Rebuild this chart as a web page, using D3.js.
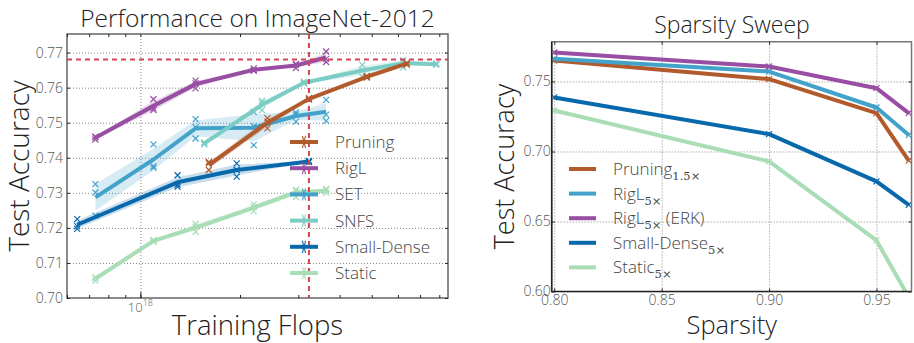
<!DOCTYPE html>
<html>
<head>
<meta charset="utf-8">
<script src="https://cdn.jsdelivr.net/npm/d3@7"></script>
<style>
  body { margin: 0; background: #fff; }
  svg { display: block; font-family: 'Open Sans', sans-serif; font-weight: 300; }
</style>
</head>
<body>
<svg id="fig" width="914" height="343"></svg>
<script>
// ---- ImageNet-2012: training flops (units of 1e18) and test accuracy of three seeds ----
const pruningFlops = [1.61, 2.42, 3.23, 4.83, 6.38];
const pruningRuns = [[0.7384, 0.7365, 0.7388], [0.7513, 0.7484, 0.7503], [0.7570, 0.7566, 0.7568], [0.7631, 0.7629, 0.7633], [0.7670, 0.7665, 0.7670]];
const rigLFlops = [0.731, 1.095, 1.468, 2.20, 2.95, 3.64];
const rigLRuns = [[0.7460, 0.7452, 0.7459], [0.7567, 0.7536, 0.7541], [0.7612, 0.7598, 0.7620], [0.7650, 0.7648, 0.7655], [0.7656, 0.7668, 0.7665], [0.7703, 0.7673, 0.7682]];
const setFlops = [0.731, 1.095, 1.468, 2.20, 2.95, 3.64];
const setRuns = [[0.7325, 0.7301, 0.7235], [0.7438, 0.7376, 0.7371], [0.7510, 0.7455, 0.7487], [0.7531, 0.7490, 0.7436], [0.7524, 0.7503, 0.7530], [0.7565, 0.7505, 0.7523]];
const snfsFlops = [1.56, 2.33, 3.12, 4.68, 6.22, 7.83];
const snfsRuns = [[0.7441, 0.7438, 0.7444], [0.7555, 0.7536, 0.7562], [0.7617, 0.7612, 0.7613], [0.7665, 0.7631, 0.7650], [0.7674, 0.7658, 0.7678], [0.7667, 0.7665, 0.7669]];
const smallDenseFlops = [0.644, 1.295, 1.954, 3.23];
const smallDenseRuns = [[0.7225, 0.7205, 0.7197], [0.7350, 0.7317, 0.7323], [0.7384, 0.7346, 0.7365], [0.7391, 0.7389, 0.7388]];
const staticFlops = [0.731, 1.095, 1.468, 2.20, 2.95, 3.64];
const staticRuns = [[0.7059, 0.7049, 0.7057], [0.7163, 0.7160, 0.7166], [0.7211, 0.7189, 0.7203], [0.7267, 0.7248, 0.7259], [0.7306, 0.7288, 0.7309], [0.7311, 0.7300, 0.7307]];
// dense baseline: its training cost and accuracy (red reference lines)
const denseFlops = 3.23;
const denseAccuracy = 0.768;

const flopsTicks = [0.6, 0.7, 0.8, 0.9, 1, 2, 3, 4, 5, 6, 7, 8];
const accuracyTicks = [0.70, 0.71, 0.72, 0.73, 0.74, 0.75, 0.76, 0.77];

// ---- Sparsity sweep ----
const sparsityLevels = [0.8, 0.9, 0.95, 0.965];
const pruningSweep = [0.7650, 0.7517, 0.7274, 0.6935];
const rigLSweep = [0.7662, 0.7571, 0.7314, 0.7117];
const rigLErkSweep = [0.7707, 0.7607, 0.7452, 0.7274];
const smallDenseSweep = [0.7386, 0.7124, 0.6786, 0.6619];
const staticSweep = [0.7293, 0.6929, 0.6365, 0.5960];
const sparsityTicks = [0.80, 0.85, 0.90, 0.95];
const sweepAccuracyTicks = [0.60, 0.65, 0.70, 0.75];

const C = {
  pruning: '#b15a2c',
  rigl: '#984ea3',
  set: '#43a2ca',
  snfs: '#7bccc4',
  smallDense: '#0868ac',
  static: '#a8ddb5',
  ref: '#d6434f'
};

const svg = d3.select('#fig');
const defs = svg.append('defs');
const crossPath = 'M-3,-3L3,3M-3,3L3,-3';
const legendCross = 'M-1.6,-6L1.6,6M-1.6,6L1.6,-6';

function popStd(a) {
  const m = d3.mean(a);
  return Math.sqrt(d3.mean(a, v => (v - m) * (v - m)));
}

function styleGrid(g) {
  g.select('.domain').remove();
  g.selectAll('.tick text').remove();
  g.selectAll('.tick line').attr('stroke', '#777').attr('stroke-width', 0.9).attr('stroke-dasharray', '1,2');
}
function styleTicks(g, labelColor) {
  g.select('.domain').remove();
  g.selectAll('.tick line').attr('stroke', '#222').attr('stroke-width', 1);
  g.selectAll('.tick text').attr('fill', labelColor).attr('font-size', 14)
    .attr('font-family', "'Open Sans', sans-serif").attr('font-weight', 300);
}

// =========================== Left panel ===========================
const L = { x0: 67, x1: 448, y0: 34, y1: 298 };
const xL = d3.scaleLog().domain([0.6, 8.5]).range([L.x0, L.x1]);
const yL = d3.scaleLinear().domain([0.70, 0.7753]).range([L.y1, L.y0]);
const gL = svg.append('g');

defs.append('clipPath').attr('id', 'clipL').append('rect')
  .attr('x', L.x0).attr('y', L.y0).attr('width', L.x1 - L.x0).attr('height', L.y1 - L.y0);

// grid
gL.append('g').attr('transform', `translate(0,${L.y1})`)
  .call(d3.axisBottom(xL).tickValues([1]).tickSize(-(L.y1 - L.y0))).call(styleGrid);
gL.append('g').attr('transform', `translate(${L.x0},0)`)
  .call(d3.axisLeft(yL).tickValues(accuracyTicks.slice(1)).tickSize(-(L.x1 - L.x0))).call(styleGrid);

const leftSeries = [
  { key: 'set', name: 'SET', color: C.set, xs: setFlops, runs: setRuns },
  { key: 'smallDense', name: 'Small-Dense', color: C.smallDense, xs: smallDenseFlops, runs: smallDenseRuns },
  { key: 'static', name: 'Static', color: C.static, xs: staticFlops, runs: staticRuns },
  { key: 'snfs', name: 'SNFS', color: C.snfs, xs: snfsFlops, runs: snfsRuns },
  { key: 'pruning', name: 'Pruning', color: C.pruning, xs: pruningFlops, runs: pruningRuns },
  { key: 'rigl', name: 'RigL', color: C.rigl, xs: rigLFlops, runs: rigLRuns }
];

const plotL = gL.append('g').attr('clip-path', 'url(#clipL)');
const lineL = d3.line().x(d => xL(d.x)).y(d => yL(d.mean));
const areaL = d3.area().x(d => xL(d.x)).y0(d => yL(d.mean - d.sd)).y1(d => yL(d.mean + d.sd));

leftSeries.forEach(s => {
  const pts = s.xs.map((x, i) => ({ x, mean: d3.mean(s.runs[i]), sd: popStd(s.runs[i]), runs: s.runs[i] }));
  const g = plotL.append('g');
  g.append('path').datum(pts).attr('d', areaL).attr('fill', s.color).attr('opacity', 0.22);
  g.append('path').datum(pts).attr('d', lineL).attr('fill', 'none')
    .attr('stroke', s.color).attr('stroke-width', 4).attr('stroke-linejoin', 'round');
  const marks = pts.flatMap(p => p.runs.map(v => ({ x: p.x, v })));
  g.selectAll('path.run').data(marks).join('path').attr('class', 'run')
    .attr('transform', d => `translate(${xL(d.x)},${yL(d.v)})`)
    .attr('d', crossPath).attr('stroke', s.color).attr('stroke-width', 1.2).attr('fill', 'none');
});

// dense reference lines
plotL.append('line').attr('x1', L.x0).attr('x2', L.x1)
  .attr('y1', yL(denseAccuracy)).attr('y2', yL(denseAccuracy))
  .attr('stroke', C.ref).attr('stroke-width', 2).attr('stroke-dasharray', '5,4');
plotL.append('line').attr('x1', xL(denseFlops)).attr('x2', xL(denseFlops))
  .attr('y1', L.y0).attr('y2', L.y1)
  .attr('stroke', C.ref).attr('stroke-width', 2).attr('stroke-dasharray', '5,4');

// frame
gL.append('rect').attr('x', L.x0).attr('y', L.y0).attr('width', L.x1 - L.x0).attr('height', L.y1 - L.y0)
  .attr('fill', 'none').attr('stroke', '#666').attr('stroke-width', 1.5);

// ticks
gL.append('g').attr('transform', `translate(0,${L.y1})`)
  .call(d3.axisBottom(xL).tickValues(flopsTicks).tickSize(-3).tickFormat('')).call(g => styleTicks(g, '#555'));
gL.append('g').attr('transform', `translate(0,${L.y0})`)
  .call(d3.axisTop(xL).tickValues(flopsTicks).tickSize(-3).tickFormat('')).call(g => styleTicks(g, '#555'));
gL.append('g').attr('transform', `translate(0,${L.y1})`)
  .call(d3.axisBottom(xL).tickValues([1]).tickSize(-6).tickFormat('')).call(g => styleTicks(g, '#555'));
gL.append('g').attr('transform', `translate(${L.x0},0)`)
  .call(d3.axisLeft(yL).tickValues(accuracyTicks).tickSize(-3).tickPadding(4).tickFormat(d3.format('.2f'))).call(g => styleTicks(g, '#555'));
gL.append('g').attr('transform', `translate(${L.x1},0)`)
  .call(d3.axisRight(yL).tickValues(accuracyTicks).tickSize(-3).tickFormat('')).call(g => styleTicks(g, '#555'));

// 10^18 label
const pow = gL.append('text').attr('x', xL(1)).attr('y', 312).attr('text-anchor', 'middle')
  .attr('fill', '#555').attr('font-size', 13);
pow.append('tspan').text('10');
pow.append('tspan').attr('font-size', 9).attr('dy', -6).text('18');

// legend
const legL = gL.append('g').attr('transform', 'translate(290,142)');
['pruning', 'rigl', 'set', 'snfs', 'smallDense', 'static'].forEach((k, i) => {
  const s = leftSeries.find(d => d.key === k);
  const row = legL.append('g').attr('transform', `translate(0,${i * 26.2})`);
  row.append('line').attr('x1', 0).attr('x2', 28).attr('stroke', s.color).attr('stroke-width', 4);
  row.append('path').attr('transform', 'translate(14,0)').attr('d', legendCross)
    .attr('stroke', s.color).attr('stroke-width', 1.1).attr('fill', 'none');
  row.append('text').attr('x', 45).attr('y', 6).attr('font-size', 17).attr('fill', '#444').text(s.name);
});

// titles
gL.append('text').attr('x', (L.x0 + L.x1) / 2).attr('y', 26.5).attr('text-anchor', 'middle')
  .attr('font-size', 24.5).attr('fill', '#222').text('Performance on ImageNet-2012');
gL.append('text').attr('x', (L.x0 + L.x1) / 2).attr('y', 335).attr('text-anchor', 'middle')
  .attr('font-size', 27.5).attr('fill', '#222').text('Training Flops');
gL.append('text').attr('transform', `translate(29,${(L.y0 + L.y1) / 2}) rotate(-90)`).attr('text-anchor', 'middle')
  .attr('font-size', 28).attr('fill', '#222').text('Test Accuracy');

// =========================== Right panel ===========================
const R = { x0: 551.7, x1: 911.5, y0: 41.7, y1: 291.5 };
const xR = d3.scaleLinear().domain([0.7988, 0.9663]).range([R.x0, R.x1]);
const yR = d3.scaleLinear().domain([0.60, 0.7784]).range([R.y1, R.y0]);
const gR = svg.append('g');

defs.append('clipPath').attr('id', 'clipR').append('rect')
  .attr('x', R.x0).attr('y', R.y0).attr('width', R.x1 - R.x0).attr('height', R.y1 - R.y0);

gR.append('g').attr('transform', `translate(0,${R.y1})`)
  .call(d3.axisBottom(xR).tickValues(sparsityTicks).tickSize(-(R.y1 - R.y0))).call(styleGrid);
gR.append('g').attr('transform', `translate(${R.x0},0)`)
  .call(d3.axisLeft(yR).tickValues(sweepAccuracyTicks).tickSize(-(R.x1 - R.x0))).call(styleGrid);

const rightSeries = [
  { name: 'Static', sub: '5×', color: C.static, vals: staticSweep },
  { name: 'Small-Dense', sub: '5×', color: C.smallDense, vals: smallDenseSweep },
  { name: 'Pruning', sub: '1.5×', color: C.pruning, vals: pruningSweep },
  { name: 'RigL', sub: '5×', color: C.set, vals: rigLSweep },
  { name: 'RigL', sub: '5×', extra: ' (ERK)', color: C.rigl, vals: rigLErkSweep }
];

const plotR = gR.append('g').attr('clip-path', 'url(#clipR)');
const lineR = d3.line().x(d => xR(d.x)).y(d => yR(d.v));
rightSeries.forEach(s => {
  const pts = sparsityLevels.map((x, i) => ({ x, v: s.vals[i] }));
  plotR.append('path').datum(pts).attr('d', lineR).attr('fill', 'none')
    .attr('stroke', s.color).attr('stroke-width', 4).attr('stroke-linejoin', 'round');
  plotR.selectAll(null).data(pts).join('path')
    .attr('transform', d => `translate(${xR(d.x)},${yR(d.v)})`)
    .attr('d', crossPath).attr('stroke', s.color).attr('stroke-width', 1.2).attr('fill', 'none');
});

// frame
gR.append('path').attr('d', `M${R.x0},${R.y1}V${R.y0}H${R.x1}V${R.y1}`).attr('fill', 'none')
  .attr('stroke', '#777').attr('stroke-width', 1.5);
gR.append('path').attr('d', `M${R.x0},${R.y0}V${R.y1}H${R.x1}`).attr('fill', 'none')
  .attr('stroke', '#222').attr('stroke-width', 1.5);

gR.append('g').attr('transform', `translate(0,${R.y1})`)
  .call(d3.axisBottom(xR).tickValues(sparsityTicks).tickSize(-3).tickPadding(4).tickFormat(d3.format('.2f'))).call(g => styleTicks(g, '#555'));
gR.append('g').attr('transform', `translate(0,${R.y0})`)
  .call(d3.axisTop(xR).tickValues(sparsityTicks).tickSize(-3).tickFormat('')).call(g => styleTicks(g, '#555'));
gR.append('g').attr('transform', `translate(${R.x0},0)`)
  .call(d3.axisLeft(yR).tickValues(sweepAccuracyTicks).tickSize(-3).tickPadding(1).tickFormat(d3.format('.2f'))).call(g => styleTicks(g, '#555'));
gR.append('g').attr('transform', `translate(${R.x1},0)`)
  .call(d3.axisRight(yR).tickValues(sweepAccuracyTicks).tickSize(-3).tickFormat('')).call(g => styleTicks(g, '#555'));

// legend
const legR = gR.append('g').attr('transform', 'translate(569,169)');
[2, 3, 4, 1, 0].forEach((idx, i) => {
  const s = rightSeries[idx];
  const row = legR.append('g').attr('transform', `translate(0,${i * 24.6})`);
  row.append('line').attr('x1', 0).attr('x2', 27).attr('stroke', s.color).attr('stroke-width', 4);
  const t = row.append('text').attr('x', 44).attr('y', 6).attr('font-size', 17).attr('fill', '#444');
  t.append('tspan').text(s.name);
  t.append('tspan').attr('dy', 5).attr('font-family', "'DejaVu Serif', serif").attr('font-size', 11.5).text(s.sub);
  if (s.extra) t.append('tspan').attr('dy', -5).text(s.extra);
});

gR.append('text').attr('x', 732).attr('y', 33).attr('text-anchor', 'middle')
  .attr('font-size', 23).attr('fill', '#222').text('Sparsity Sweep');
gR.append('text').attr('x', 731.7).attr('y', 334).attr('text-anchor', 'middle')
  .attr('font-size', 25.5).attr('fill', '#222').text('Sparsity');
gR.append('text').attr('transform', `translate(514,${(R.y0 + R.y1) / 2}) rotate(-90)`).attr('text-anchor', 'middle')
  .attr('font-size', 27).attr('fill', '#222').text('Test Accuracy');
</script>
</body>
</html>
